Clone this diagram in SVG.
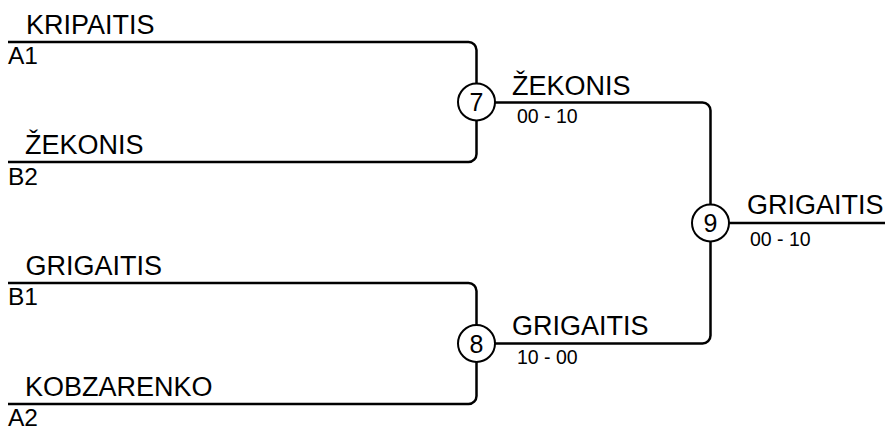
<svg xmlns="http://www.w3.org/2000/svg" width="885" height="430" viewBox="0 0 885 430">
<style>
.ln{fill:none;stroke:#000;stroke-width:2.5}
.cir{fill:#fff;stroke:#000;stroke-width:2}
text{font-family:"Liberation Sans",Arial,sans-serif;fill:#000}
.nm{font-size:27px}
.sd{font-size:24.5px}
.sc{font-size:19.5px}
.num{font-size:25px;text-anchor:middle}
</style>
<rect width="885" height="430" fill="#fff"/>
<g id="connectors">
<path class="ln" d="M8,42 H468.5 A8,8 0 0 1 476.5,50 V83.5"/>
<path class="ln" d="M8,162 H468.5 A8,8 0 0 0 476.5,154 V120.5"/>
<path class="ln" d="M8,283 H468.5 A8,8 0 0 1 476.5,291 V325"/>
<path class="ln" d="M8,404 H468.5 A8,8 0 0 0 476.5,396 V362"/>
<path class="ln" d="M495,102.5 H702.5 A8,8 0 0 1 710.5,110.5 V204.5"/>
<path class="ln" d="M495,343.5 H702.5 A8,8 0 0 0 710.5,335.5 V241.5"/>
<path class="ln" d="M729,223 H885"/>
</g>
<g id="p1"><text class="nm" x="26" y="34">KRIPAITIS</text><text class="sd" x="8" y="64">A1</text></g>
<g id="p2"><text class="nm" x="25" y="154">ŽEKONIS</text><text class="sd" x="8" y="185">B2</text></g>
<g id="p3"><text class="nm" x="25.5" y="275">GRIGAITIS</text><text class="sd" x="8" y="305">B1</text></g>
<g id="p4"><text class="nm" x="25" y="396">KOBZARENKO</text><text class="sd" x="8" y="426">A2</text></g>
<g id="m7"><circle class="cir" cx="476.5" cy="102" r="18.5"/><text class="num" x="476.5" y="111">7</text></g>
<g id="m8"><circle class="cir" cx="476.5" cy="343.5" r="18.5"/><text class="num" x="476.5" y="352.5">8</text></g>
<g id="m9"><circle class="cir" cx="710.5" cy="223" r="18.5"/><text class="num" x="710.5" y="232">9</text></g>
<g id="w7"><text class="nm" x="512" y="94.5">ŽEKONIS</text><text class="sc" x="517" y="123">00 - 10</text></g>
<g id="w8"><text class="nm" x="512" y="335">GRIGAITIS</text><text class="sc" x="517" y="364">10 - 00</text></g>
<g id="w9"><text class="nm" x="747" y="214">GRIGAITIS</text><text class="sc" x="750" y="246">00 - 10</text></g>
</svg>
